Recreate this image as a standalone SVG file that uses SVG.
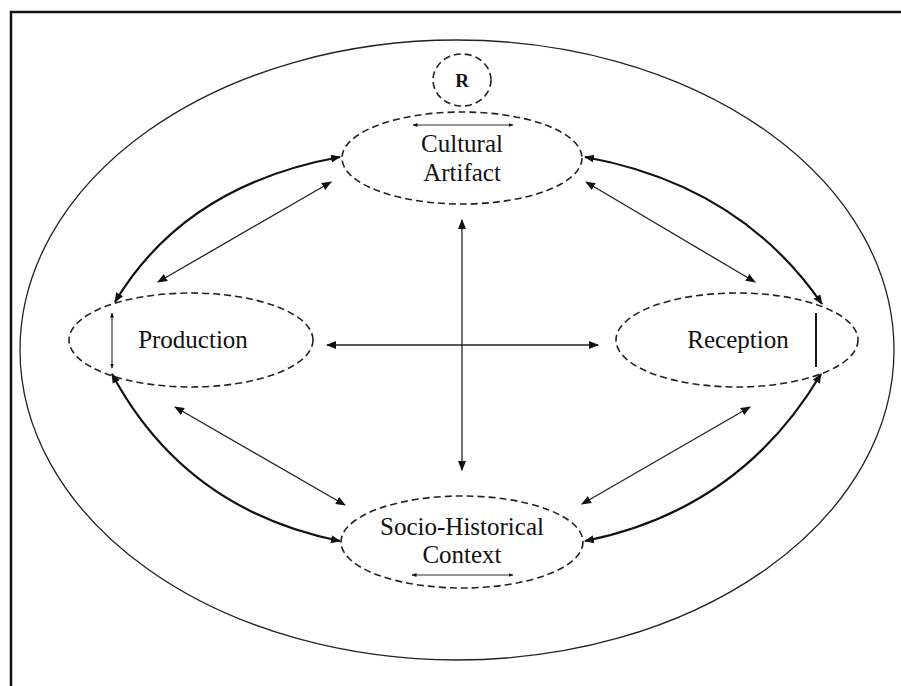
<svg xmlns="http://www.w3.org/2000/svg" width="901" height="686" viewBox="0 0 901 686">
<defs>
<marker id="ah" viewBox="0 0 10 10" refX="9" refY="5" markerWidth="10" markerHeight="10" markerUnits="userSpaceOnUse" orient="auto-start-reverse">
<path d="M0,1 L10,5 L0,9 z" fill="#111"/>
</marker>
<marker id="ahs" viewBox="0 0 10 10" refX="9" refY="5" markerWidth="5" markerHeight="5" markerUnits="userSpaceOnUse" orient="auto-start-reverse">
<path d="M0,1 L10,5 L0,9 z" fill="#111"/>
</marker>
</defs>
<style>
.node{fill:none;stroke:#222;stroke-width:1.6;stroke-dasharray:7 4}
.lbl{font-family:"Liberation Serif","Times New Roman",serif;font-size:25px;fill:#111;text-anchor:middle}
.thick{fill:none;stroke:#111;stroke-width:2.2;marker-start:url(#ah);marker-end:url(#ah)}
.thin{fill:none;stroke:#222;stroke-width:1.3;marker-start:url(#ah);marker-end:url(#ah)}
.tiny{fill:none;stroke:#333;stroke-width:1.2;marker-start:url(#ahs);marker-end:url(#ahs)}
</style>
<rect x="0" y="0" width="901" height="686" fill="#fff"/>
<g id="frame">
<path d="M11,686 L11,12 L901,12" fill="none" stroke="#111" stroke-width="2.5"/>
<ellipse cx="457" cy="350" rx="437" ry="310" fill="none" stroke="#222" stroke-width="1.3"/>
</g>
<g id="R">
<ellipse cx="462" cy="80" rx="29" ry="26" class="node"/>
<text x="462" y="87" class="lbl" style="font-size:19px;font-weight:bold">R</text>
</g>
<g id="cultural-artifact">
<ellipse cx="462" cy="158" rx="120" ry="46" class="node"/>
<text x="462" y="152" class="lbl">Cultural</text>
<text x="462" y="181" class="lbl">Artifact</text>
<line x1="413" y1="125" x2="513" y2="125" class="tiny"/>
</g>
<g id="production">
<ellipse cx="191" cy="340" rx="122" ry="47" class="node"/>
<text x="193" y="348" class="lbl">Production</text>
<line x1="112" y1="313" x2="112" y2="368" class="tiny"/>
</g>
<g id="reception">
<ellipse cx="737" cy="340" rx="121" ry="47" class="node"/>
<text x="738" y="348" class="lbl">Reception</text>
<line x1="816" y1="313" x2="816" y2="367" stroke="#111" stroke-width="2"/>
</g>
<g id="socio-historical-context">
<ellipse cx="462" cy="542" rx="121" ry="46" class="node"/>
<text x="462" y="535" class="lbl">Socio-Historical</text>
<text x="462" y="563" class="lbl">Context</text>
<line x1="412" y1="575" x2="513" y2="575" class="tiny"/>
</g>
<g id="connectors">
<path d="M115,302 Q185,185 340,157" class="thick"/>
<path d="M585,157 Q740,185 822,304" class="thick"/>
<path d="M112,374 Q185,510 340,541" class="thick"/>
<path d="M821,374 Q740,510 585,541" class="thick"/>
<line x1="158" y1="282" x2="331" y2="182" class="thin"/>
<line x1="586" y1="182" x2="755" y2="282" class="thin"/>
<line x1="175" y1="407" x2="345" y2="505" class="thin"/>
<line x1="750" y1="407" x2="582" y2="504" class="thin"/>
<line x1="462" y1="220" x2="462" y2="470" class="thin"/>
<line x1="327" y1="345" x2="598" y2="345" class="thin"/>
</g>
</svg>
